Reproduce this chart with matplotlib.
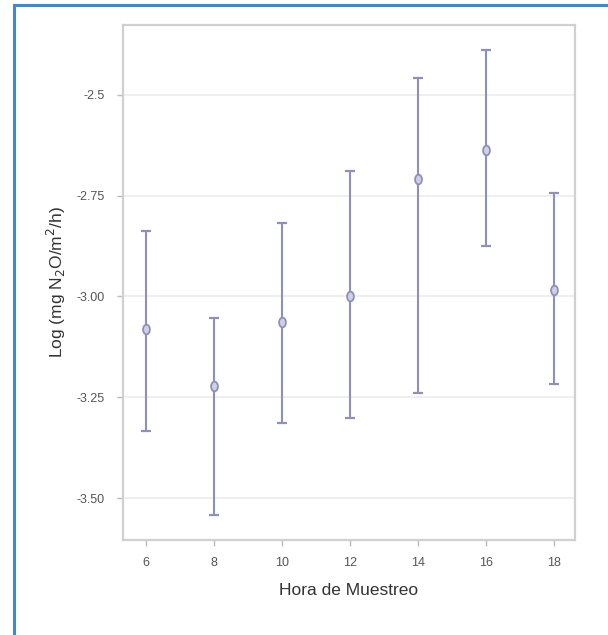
import numpy as np
import matplotlib.pyplot as plt
from matplotlib.lines import Line2D

# data
hora = [6, 8, 10, 12, 14, 16, 18]
media = [-3.082, -3.223, -3.064, -2.998, -2.710, -2.636, -2.985]
superior = [-2.837, -3.054, -2.817, -2.688, -2.458, -2.389, -2.743]
inferior = [-3.334, -3.542, -3.314, -3.302, -3.240, -2.876, -3.218]
yticks = [-2.5, -2.75, -3.00, -3.25, -3.50]
ytick_labels = ['-2.5', '-2.75', '-3.00', '-3.25', '-3.50']

plt.rcParams['font.family'] = ['Liberation Sans', 'DejaVu Sans']

fig = plt.figure(figsize=(6.08, 6.35), dpi=100)
W, H = 608, 635
ax = fig.add_axes([123 / W, 1 - 540 / H, (575 - 123) / W, (540 - 25) / H])

# slightly tall ellipse for the mean marker
t = np.linspace(0, 2 * np.pi, 40)
ellipse = np.column_stack([0.7 * np.cos(t), np.sin(t)])

media = np.array(media)
err = [media - np.array(inferior), np.array(superior) - media]
col = '#8d90ba'
ax.errorbar(hora, media, yerr=err, fmt='none', ecolor=col,
            elinewidth=1.5, capsize=3.5, capthick=1.6, zorder=3)
ax.plot(hora, media, linestyle='none', marker=ellipse, markersize=7,
        mfc='#cfd0e4', mec=col, mew=1.3, zorder=4)

ax.set_xlim(5.32, 18.62)
ax.set_ylim(-3.604, -2.327)
ax.set_xticks(hora)
ax.set_yticks(yticks)
ax.set_yticklabels(ytick_labels)
ax.yaxis.grid(True, color='#ececec', linewidth=1.2)
ax.set_axisbelow(True)

for s in ax.spines.values():
    s.set_color('#d0d0d0')
    s.set_linewidth(1.6)
ax.tick_params(colors='#bbbbbb', labelcolor='#555555', labelsize=9,
               length=4, width=1)
ax.tick_params(axis='x', pad=8)
ax.tick_params(axis='y', pad=9)

ax.set_xlabel('Hora de Muestreo', fontsize=12.5, color='#333333', labelpad=10)
ax.set_ylabel('Log (mg N$_2$O/m$^2$/h)', fontsize=12.5, color='#333333',
              labelpad=6)

# blue frame around the figure (cropped at right and bottom)
fig.add_artist(Line2D([14 / W, 14 / W], [0, 1 - 5 / H], color='#3a8ad6',
                      linewidth=2.2, transform=fig.transFigure))
fig.add_artist(Line2D([14 / W, 1], [1 - 5 / H, 1 - 5 / H], color='#3a8ad6',
                      linewidth=2.2, transform=fig.transFigure))

fig.savefig('out.png', dpi=100)
